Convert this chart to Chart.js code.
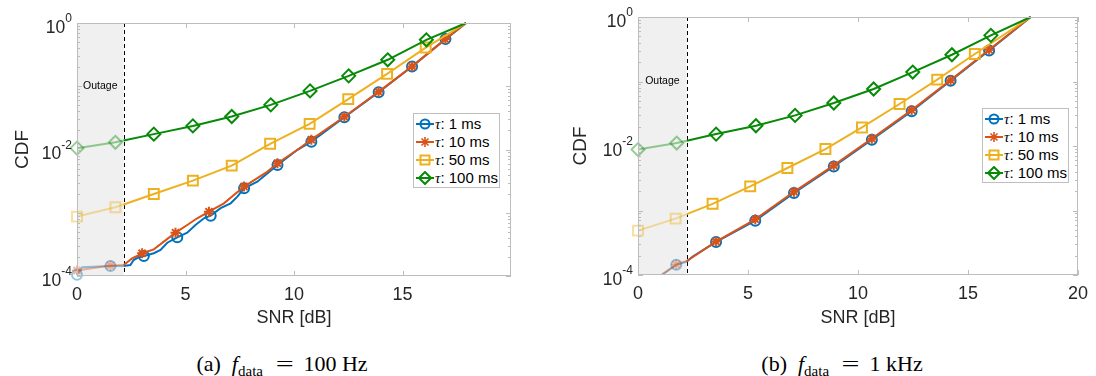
<!DOCTYPE html>
<html>
<head>
<meta charset="utf-8">
<script src="https://cdn.jsdelivr.net/npm/chart.js@4.4.1/dist/chart.umd.min.js"></script>
<style>
  body { margin: 0; background: #fff; width: 1096px; height: 376px; overflow: hidden; position: relative;
         font-family: "Liberation Sans", Arial, sans-serif; }
  canvas { position: absolute; top: 0; }
  #chartA { left: 0; }
  #chartB { left: 548px; }
  .legend { position: absolute; background: #fff; border: 1px solid #bfbfbf; width: 85px; height: 72px;
            padding-top: 1px; box-sizing: content-box; font-size: 15px; color: #000; }
  .legend .row { display: flex; align-items: center; height: 18px; white-space: nowrap; }
  .legend svg { margin: 0 1px 0 2px; }
  .legend i { font-family: "Liberation Serif", serif; }
  .cap { position: absolute; top: 351px; transform: translateX(-50%); white-space: nowrap; line-height: 25px;
         font-family: "Liberation Serif", "Times New Roman", serif; font-size: 22px; color: #000; }
  .cap i { margin-left: 11px; }
  .cap sub { font-size: 15px; vertical-align: -5px; line-height: 0; }
  .cap .eq { display: inline-block; font-size: 22px; transform: scaleX(1.45); margin: 0 13px 0 15px;
             line-height: 0; }
</style>
</head>
<body>
<canvas id="chartA" width="548" height="330"></canvas>
<canvas id="chartB" width="548" height="330"></canvas>
<div class="legend" id="legA" style="left:413px; top:113px;"></div>
<div class="legend" id="legB" style="left:982px; top:108px;"></div>
<div class="cap" style="left:282px;">(a)<i>f</i><sub>data</sub><span class="eq">=</span>100 Hz</div>
<div class="cap" style="left:842px;">(b)<i>f</i><sub>data</sub><span class="eq">=</span>1 kHz</div>

<script>
// ---- data: panel (a) f_data = 100 Hz ----
const tauLabels = ['1 ms', '10 ms', '50 ms', '100 ms'];
const xTicksA = [0, 5, 10, 15];
const xTicksB = [0, 5, 10, 15, 20];
const yTicks = [1e-4, 1e-2, 1];
const outageA = 2.15;
const outageB = 2.22;

const snrA1 = [0, 0.25, 1.54, 2.15, 2.46, 2.61, 2.85, 3.08, 3.54, 3.85, 4.16, 4.62, 5.08, 5.46, 5.85, 6.16, 6.62, 7.08, 7.39, 7.7, 8.31, 8.78, 9.24, 10.16, 10.8, 12.32, 13.9, 15.44, 16.98, 17.93];
const cdfA1 = [1.05e-4, 1.38e-4, 1.44e-4, 1.44e-4, 1.49e-4, 1.79e-4, 1.98e-4, 2.07e-4, 2.29e-4, 2.58e-4, 3.36e-4, 4.09e-4, 4.84e-4, 6.41e-4, 8.18e-4, 9.0e-4, 1.18e-3, 1.41e-3, 1.8e-3, 2.44e-3, 3.1e-3, 4.22e-3, 5.7e-3, 9.9e-3, 0.0133, 0.0324, 0.0807, 0.205, 0.556, 1];
const markA1 = [0, 1.54, 3.08, 4.62, 6.16, 7.7, 9.24, 10.8, 12.32, 13.9, 15.44, 16.98];

const snrA10 = [0, 1.54, 2.15, 2.54, 2.77, 3.0, 3.54, 4.0, 4.54, 5.08, 5.54, 6.08, 6.77, 7.23, 7.7, 8.31, 8.78, 9.24, 10.16, 10.8, 12.32, 13.9, 15.44, 16.98, 17.93];
const cdfA10 = [1.22e-4, 1.46e-4, 1.49e-4, 1.9e-4, 2.07e-4, 2.29e-4, 2.64e-4, 3.49e-4, 4.84e-4, 6.41e-4, 8.18e-4, 1.04e-3, 1.41e-3, 1.91e-3, 2.59e-3, 3.52e-3, 4.47e-3, 6.07e-3, 9.9e-3, 0.0143, 0.033, 0.0815, 0.206, 0.556, 1];
const markA10 = [0, 1.54, 3.0, 4.54, 6.08, 7.7, 9.24, 10.8, 12.32, 13.9, 15.44, 16.98];

const snrA50 = [0, 1.77, 2.15, 3.54, 5.34, 7.13, 8.9, 10.72, 12.5, 14.29, 16.07, 17.93];
const cdfA50 = [8.7e-4, 1.22e-3, 1.35e-3, 1.98e-3, 3.22e-3, 5.56e-3, 0.0123, 0.0254, 0.0625, 0.157, 0.409, 1];
const markA50 = [0, 1.77, 3.54, 5.34, 7.13, 8.9, 10.72, 12.5, 14.29, 16.07];

const snrA100 = [0, 1.77, 2.15, 3.54, 5.34, 7.13, 8.93, 10.74, 12.52, 14.32, 16.1, 17.93];
const cdfA100 = [0.0105, 0.013, 0.0139, 0.0175, 0.0236, 0.0332, 0.0508, 0.0845, 0.146, 0.262, 0.542, 1];
const markA100 = [0, 1.77, 3.54, 5.34, 7.13, 8.93, 10.74, 12.52, 14.32, 16.1];

// ---- data: panel (b) f_data = 1 kHz ----
const snrB1 = [0.9, 1.74, 2.22, 2.49, 3.55, 5.33, 7.09, 8.9, 10.63, 12.44, 14.21, 15.96, 17.85];
const cdfB1 = [9e-5, 1.44e-4, 1.62e-4, 1.94e-4, 3.25e-4, 6.95e-4, 1.87e-3, 4.83e-3, 0.0125, 0.0345, 0.103, 0.303, 1];
const markB1 = [1.74, 3.55, 5.33, 7.09, 8.9, 10.63, 12.44, 14.21, 15.96];

const snrB10 = [0.9, 1.74, 2.22, 3.55, 5.33, 7.09, 8.9, 10.63, 12.44, 14.21, 15.96, 17.85];
const cdfB10 = [9.2e-5, 1.46e-4, 1.65e-4, 3.3e-4, 7.3e-4, 1.95e-3, 5.0e-3, 0.013, 0.036, 0.105, 0.31, 1];
const markB10 = [1.74, 3.55, 5.33, 7.09, 8.9, 10.63, 12.44, 14.21, 15.96];

const snrB50 = [0, 1.71, 2.22, 3.39, 5.1, 6.79, 8.52, 10.18, 11.89, 13.6, 15.31, 17.85];
const cdfB50 = [4.87e-4, 7.47e-4, 8.8e-4, 1.27e-3, 2.37e-3, 4.56e-3, 8.97e-3, 0.0194, 0.0448, 0.107, 0.267, 1];
const markB50 = [0, 1.71, 3.39, 5.1, 6.79, 8.52, 10.18, 11.89, 13.6, 15.31];

const snrB100 = [0, 1.76, 2.22, 3.55, 5.36, 7.14, 8.9, 10.71, 12.49, 14.27, 16.04, 17.85];
const cdfB100 = [8.8e-3, 0.0111, 0.0121, 0.0153, 0.0206, 0.0298, 0.0464, 0.0766, 0.140, 0.26, 0.519, 1];
const markB100 = [0, 1.76, 3.55, 5.36, 7.14, 8.9, 10.71, 12.49, 14.27, 16.04];

// ---- styles ----
const FONT = '"Liberation Sans", Arial, sans-serif';
const TEXT = '#262626';
const BOX = '#bdbdbd';
const styles = [
  { color: '#0072BD', faded: 'rgba(0,114,189,0.42)', point: 'circle', radius: 5 },
  { color: '#D95319', faded: 'rgba(217,83,25,0.42)', point: 'star', radius: 5 },
  { color: '#EDB120', faded: 'rgba(237,177,32,0.42)', point: 'rect', radius: 7 },
  { color: '#078A07', faded: 'rgba(7,138,7,0.42)', point: 'rectRot', radius: 6.5 }
];

function makeDataset(xs, ys, marks, st, outage, clip) {
  return {
    data: xs.map((x, i) => ({ x: x, y: ys[i] })),
    borderColor: st.color,
    borderWidth: 2,
    tension: 0,
    clip: clip,
    segment: { borderColor: c => c.p0.parsed.x < outage - 1e-6 ? st.faded : st.color },
    pointStyle: st.point,
    pointRadius: c => (c.raw && marks.includes(c.raw.x)) ? st.radius : 0,
    pointHoverRadius: 0,
    pointBorderWidth: 2,
    pointBackgroundColor: 'rgba(0,0,0,0)',
    pointBorderColor: c => (c.raw && c.raw.x < outage - 1e-6) ? st.faded : st.color
  };
}

// panel decorations: outage shade, dashed threshold, box, inward ticks, y labels
const panelPlugin = {
  id: 'panel',
  beforeDatasetsDraw(chart, args, opts) {
    const { ctx, chartArea: a, scales: { x, y } } = chart;
    const xo = x.getPixelForValue(opts.outage);
    ctx.save();
    ctx.fillStyle = '#f0f0f0';
    ctx.fillRect(a.left, a.top, xo - a.left, a.bottom - a.top);
    ctx.fillStyle = '#000';
    ctx.font = '10.5px ' + FONT;
    ctx.textAlign = 'center';
    ctx.textBaseline = 'middle';
    ctx.fillText('Outage', (a.left + xo) / 2, y.getPixelForValue(0.1));
    ctx.strokeStyle = '#000';
    ctx.lineWidth = 1;
    ctx.setLineDash([4, 3]);
    ctx.beginPath();
    ctx.moveTo(Math.round(xo) + 0.5, a.top);
    ctx.lineTo(Math.round(xo) + 0.5, a.bottom);
    ctx.stroke();
    ctx.restore();
  },
  afterDraw(chart) {
    const { ctx, chartArea: a, scales: { x, y } } = chart;
    ctx.save();
    ctx.strokeStyle = BOX;
    ctx.lineWidth = 1;
    ctx.strokeRect(Math.round(a.left) + 0.5, Math.round(a.top) + 0.5,
                   Math.round(a.right - a.left) - 1, Math.round(a.bottom - a.top) - 1);
    ctx.beginPath();
    x.ticks.forEach(t => {
      const px = Math.round(x.getPixelForValue(t.value)) + 0.5;
      ctx.moveTo(px, a.bottom); ctx.lineTo(px, a.bottom - 5);
      ctx.moveTo(px, a.top); ctx.lineTo(px, a.top + 5);
    });
    for (let e = -4; e < 0; e++) {
      for (let m = 1; m < 10; m++) {
        const py = Math.round(y.getPixelForValue(m * Math.pow(10, e))) + 0.5;
        const len = m === 1 ? 5 : 3;
        ctx.moveTo(a.left, py); ctx.lineTo(a.left + len, py);
        ctx.moveTo(a.right, py); ctx.lineTo(a.right - len, py);
      }
    }
    ctx.stroke();
    // y tick labels as 10^k
    ctx.fillStyle = TEXT;
    ctx.textBaseline = 'middle';
    yTicks.forEach(v => {
      const py = y.getPixelForValue(v);
      const exp = String(Math.round(Math.log10(v)));
      ctx.font = '12px ' + FONT;
      const ew = ctx.measureText(exp).width;
      const right = a.left - 5;
      ctx.textAlign = 'right';
      ctx.fillText(exp, right, py - 4);
      ctx.font = '17.5px ' + FONT;
      ctx.fillText('10', right - ew, py + 5);
    });
    ctx.restore();
  }
};

function makeChart(id, series, xTicks, outage, pad, yWidth, xHeight, yTitlePad) {
  return new Chart(document.getElementById(id), {
    type: 'line',
    data: { datasets: series },
    plugins: [panelPlugin],
    options: {
      responsive: false,
      animation: false,
      layout: { padding: pad },
      plugins: {
        legend: { display: false },
        tooltip: { enabled: false },
        panel: { outage: outage }
      },
      scales: {
        x: {
          type: 'linear', min: 0, max: 20,
          grid: { display: false, drawTicks: false },
          border: { display: false },
          afterBuildTicks: s => { s.ticks = xTicks.map(v => ({ value: v })); },
          afterFit: s => { s.height = xHeight; },
          ticks: { color: TEXT, font: { family: FONT, size: 18 }, padding: 8, maxRotation: 0 },
          title: { display: true, text: 'SNR [dB]', color: TEXT, font: { family: FONT, size: 18 }, padding: 1 }
        },
        y: {
          type: 'logarithmic', min: 1e-4, max: 1,
          grid: { display: false, drawTicks: false },
          border: { display: false },
          afterBuildTicks: s => { s.ticks = yTicks.map(v => ({ value: v })); },
          afterFit: s => { s.width = yWidth; },
          ticks: { display: false },
          title: { display: true, text: 'CDF', color: TEXT, font: { family: FONT, size: 19 }, padding: yTitlePad }
        }
      }
    }
  });
}

const clipA = { left: 8, top: 1, right: 0, bottom: 8 };
const clipB = { left: 8, top: 1, right: 0, bottom: 0 };
// drawing order: later entries are painted first, so blue sits at the bottom and green on top
makeChart('chartA', [
  makeDataset(snrA100, cdfA100, markA100, styles[3], outageA, clipA),
  makeDataset(snrA50, cdfA50, markA50, styles[2], outageA, clipA),
  makeDataset(snrA10, cdfA10, markA10, styles[1], outageA, clipA),
  makeDataset(snrA1, cdfA1, markA1, styles[0], outageA, clipA)
], xTicksA, outageA, { left: 0, top: 23, right: 37, bottom: 0 }, 77, 54, 11);

makeChart('chartB', [
  makeDataset(snrB100, cdfB100, markB100, styles[3], outageB, clipA),
  makeDataset(snrB50, cdfB50, markB50, styles[2], outageB, clipA),
  makeDataset(snrB10, cdfB10, markB10, styles[1], outageB, clipB),
  makeDataset(snrB1, cdfB1, markB1, styles[0], outageB, clipB)
], xTicksB, outageB, { left: 0, top: 17, right: 15, bottom: 0 }, 90, 55, 21);

// legends
function symbol(st) {
  const c = st.color, cx = 9, cy = 7;
  let m = '';
  if (st.point === 'circle') m = `<circle cx="${cx}" cy="${cy}" r="4.5" fill="none" stroke="${c}" stroke-width="2"/>`;
  if (st.point === 'star') m = `<path d="M4 7H14M9 2V12M5.5 3.5L12.5 10.5M12.5 3.5L5.5 10.5" stroke="${c}" stroke-width="1.6"/>`;
  if (st.point === 'rect') m = `<rect x="4.5" y="2.5" width="9" height="9" fill="none" stroke="${c}" stroke-width="2"/>`;
  if (st.point === 'rectRot') m = `<path d="M9 1L15 7L9 13L3 7Z" fill="none" stroke="${c}" stroke-width="2"/>`;
  return `<svg width="18" height="14"><line x1="0" y1="${cy}" x2="18" y2="${cy}" stroke="${c}" stroke-width="2"/>${m}</svg>`;
}
['legA', 'legB'].forEach(id => {
  document.getElementById(id).innerHTML = tauLabels.map((lab, i) =>
    `<div class="row">${symbol(styles[i])}<span><i>τ</i>: ${lab}</span></div>`).join('');
});
</script>
</body>
</html>
